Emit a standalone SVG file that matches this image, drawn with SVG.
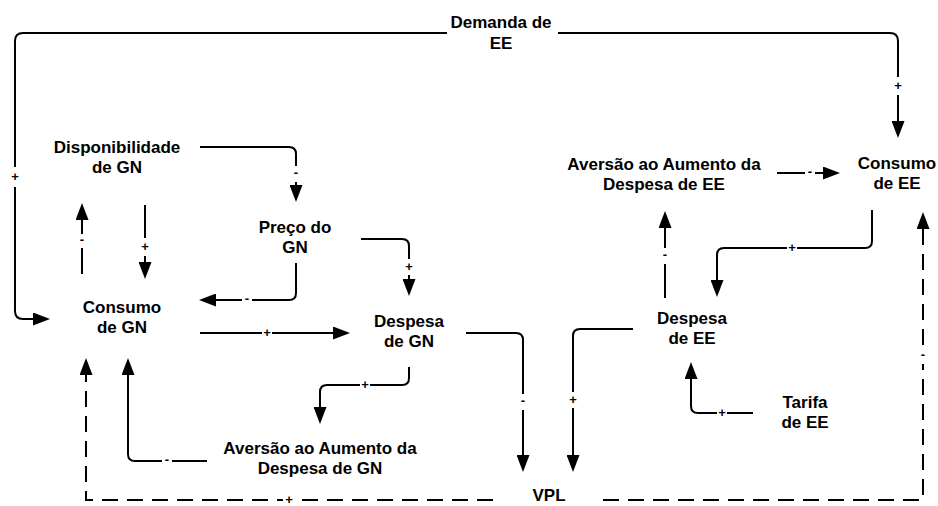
<svg xmlns="http://www.w3.org/2000/svg" width="938" height="506" viewBox="0 0 938 506">
<style>
.n text{font-family:"Liberation Sans",Arial,sans-serif;font-weight:bold;font-size:17px;fill:#000;text-anchor:middle}
.c path{fill:none;stroke:#000;stroke-width:2}
.c .d{stroke-dasharray:16 9}
.l rect{fill:#fff}
.l text{font-family:"Liberation Sans",Arial,sans-serif;font-weight:bold;font-size:13px;fill:#000;text-anchor:middle}
</style>
<defs>
<marker id="ah" markerUnits="userSpaceOnUse" markerWidth="17" markerHeight="13" refX="9" refY="6.5" orient="auto">
<path d="M0,0 L17,6.5 L0,13 z" fill="#000"/>
</marker>
</defs>
<rect width="938" height="506" fill="#fff"/>
<g id="connectors" class="c">
<path marker-end="url(#ah)" d="M447,33 H23 Q15,33 15,41 V311 Q15,319 23,319 H42"/>
<path marker-end="url(#ah)" d="M558,33 H890 Q898,33 898,41 V130"/>
<path marker-end="url(#ah)" d="M200,147 H289 Q296,147 296,154 V194"/>
<path marker-end="url(#ah)" d="M145,205 V271"/>
<path marker-end="url(#ah)" d="M82,274 V211"/>
<path marker-end="url(#ah)" d="M296,263 V293 Q296,300 289,300 H207"/>
<path marker-end="url(#ah)" d="M361,239 H402 Q409,239 409,246 V288"/>
<path marker-end="url(#ah)" d="M200,333 H342"/>
<path marker-end="url(#ah)" d="M409,367 V378 Q409,385 402,385 H327 Q320,385 320,392 V416"/>
<path marker-end="url(#ah)" d="M207,461 H135 Q128,461 128,454 V366"/>
<path class="d" marker-end="url(#ah)" d="M493,500 H86 V366"/>
<path marker-end="url(#ah)" d="M466,333 H516 Q523,333 523,340 V464"/>
<path marker-end="url(#ah)" d="M633,329 H580 Q573,329 573,336 V464"/>
<path class="d" marker-end="url(#ah)" d="M603,500 H923 V220"/>
<path marker-end="url(#ah)" d="M872,210 V241 Q872,248 865,248 H724 Q717,248 717,255 V289"/>
<path marker-end="url(#ah)" d="M665,298 V219"/>
<path marker-end="url(#ah)" d="M777,173 H832"/>
<path marker-end="url(#ah)" d="M753,413 H698 Q691,413 691,406 V370"/>
</g>
<g id="labels" class="l">
<rect x="9" y="167" width="12" height="20"/><text x="15" y="181">+</text>
<rect x="892" y="77" width="12" height="18"/><text x="898" y="90">+</text>
<rect x="290" y="166" width="12" height="16"/><text x="296" y="177">-</text>
<rect x="139" y="238" width="12" height="18"/><text x="145" y="251">+</text>
<rect x="76" y="234" width="12" height="14"/><text x="82" y="244">-</text>
<rect x="242" y="296" width="10" height="8"/><text x="247" y="303">-</text>
<rect x="403" y="259" width="12" height="16"/><text x="409" y="271">+</text>
<rect x="262" y="329" width="10" height="8"/><text x="267" y="337">+</text>
<rect x="360" y="381" width="10" height="8"/><text x="365" y="389">+</text>
<rect x="162" y="457" width="10" height="8"/><text x="167" y="464">-</text>
<rect x="283" y="496" width="12" height="8"/><text x="289" y="504">+</text>
<rect x="517" y="394" width="12" height="16"/><text x="523" y="405">-</text>
<rect x="567" y="392" width="12" height="16"/><text x="573" y="404">+</text>
<rect x="917" y="348" width="12" height="16"/><text x="923" y="359">-</text>
<rect x="787" y="244" width="10" height="8"/><text x="792" y="252">+</text>
<rect x="659" y="248" width="12" height="16"/><text x="665" y="259">-</text>
<rect x="805" y="169" width="10" height="8"/><text x="810" y="176">-</text>
<rect x="717" y="409" width="10" height="8"/><text x="722" y="417">+</text>
</g>
<g id="demanda-ee" class="n"><text x="501" y="28">Demanda de</text><text x="501" y="49">EE</text></g>
<g id="disponibilidade-gn" class="n"><text x="117" y="153">Disponibilidade</text><text x="117" y="173">de GN</text></g>
<g id="preco-gn" class="n"><text x="295" y="233">Preço do</text><text x="295" y="253">GN</text></g>
<g id="consumo-gn" class="n"><text x="122" y="313">Consumo</text><text x="122" y="333">de GN</text></g>
<g id="despesa-gn" class="n"><text x="409" y="327">Despesa</text><text x="409" y="347">de GN</text></g>
<g id="aversao-gn" class="n"><text x="320" y="454">Aversão ao Aumento da</text><text x="320" y="474">Despesa de GN</text></g>
<g id="vpl" class="n"><text x="549" y="501">VPL</text></g>
<g id="despesa-ee" class="n"><text x="692" y="324">Despesa</text><text x="692" y="344">de EE</text></g>
<g id="tarifa-ee" class="n"><text x="805" y="408">Tarifa</text><text x="805" y="428">de EE</text></g>
<g id="aversao-ee" class="n"><text x="664" y="170">Aversão ao Aumento da</text><text x="664" y="190">Despesa de EE</text></g>
<g id="consumo-ee" class="n"><text x="897" y="169">Consumo</text><text x="897" y="189">de EE</text></g>
</svg>
